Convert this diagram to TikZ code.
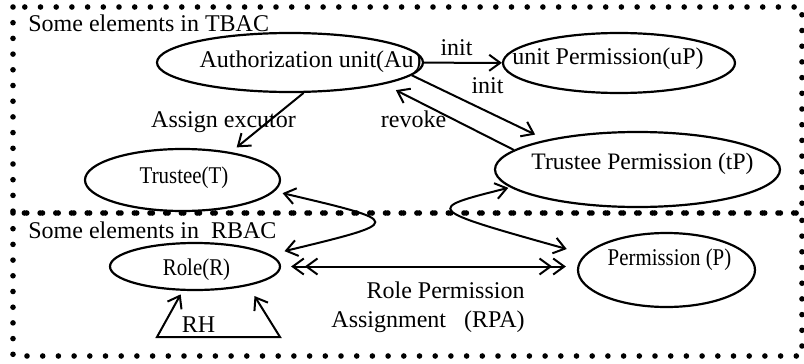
\documentclass[tikz,border=0pt]{standalone}
\usepackage{graphicx}
\usepackage{fontspec}
\setmainfont{Liberation Serif}
\usetikzlibrary{arrows.meta,shapes.geometric}
\newcommand{\narrowtext}[1]{\scalebox{0.87}[1]{#1}}
\tikzset{
	elem/.style={ellipse,draw,line width=1.1pt,inner sep=0pt},
	txt/.style={font=\fontsize{12}{14.5}\selectfont,inner sep=0pt,anchor=base},
	region/.style={line width=2.8pt,line cap=round,dash pattern=on 0pt off 7.85pt},
	link/.style={line width=1pt},
	>={Straight Barb[length=5.5pt,width=8pt]},
}

\begin{document}
\begin{tikzpicture}[x=0.5pt,y=-0.5pt]
\useasboundingbox (0,0) rectangle (804,364);
% RIQUADRI PUNTEGGIATI
\draw[region] (13,7) rectangle (802,213);
\draw[region] (13,213) rectangle (802,356);
\node[txt,anchor=base west] (tbac) at (28,32) {Some elements in TBAC};
\node[txt,anchor=base west] (rbac) at (28,238) {Some elements in\ \ RBAC};
% ELLISSI
\node[elem,minimum width=133pt,minimum height=29.5pt] (au) at (290,62.5) {};
\node[elem,minimum width=116pt,minimum height=30pt] (up) at (619,63) {};
\node[elem,minimum width=142.5pt,minimum height=37.5pt] (tp) at (637.5,169.5) {};
\node[elem,minimum width=97.5pt,minimum height=31pt] (tr) at (182.5,180) {};
\node[elem,minimum width=85pt,minimum height=23.5pt] (ro) at (195,266.5) {};
\node[elem,minimum width=88.5pt,minimum height=37pt] (pe) at (666.5,270) {};
% NOMI
\node[txt] (au-l) at (310.5,68) {Authorization unit(Au)};
\node[txt] (up-l) at (608,64) {unit Permission(uP)};
\node[txt,font=\fontsize{11.8}{14}\selectfont] (tp-l) at (642.5,169) {Trustee Permission (tP)};
\node[txt] (tr-l) at (184,183) {\narrowtext{Trustee(T)}};
\node[txt] (ro-l) at (196.5,275) {\narrowtext{Role(R)}};
\node[txt] (pe-l) at (669.5,265) {\narrowtext{Permission (P)}};
% FRECCE TBAC
\draw[link,->] (au) -- (up);
\node[txt] (init1) at (456.5,55) {init};
\draw[link,->,shorten >=6pt] (au.-6) -- (tp.162);
\node[txt] (init2) at (487.5,93) {init};
\draw[link,->,shorten >=6.5pt] (tp.171) -- (au.-13);
\node[txt] (revoke) at (413.5,127) {revoke};
\draw[link,->,shorten >=3.7pt] (au.-66) -- (tr.30);
\node[txt] (assign) at (223.5,127) {Assign excutor};
% FRECCE TRA I DUE MODELLI
\draw[link,<->,shorten <=4pt,shorten >=7.3pt] (tr.-7) .. controls (405,222) and (405,222) .. (ro.9);
\draw[link,<->,shorten <=1pt,shorten >=9.5pt] (tp.188) .. controls (424,209) and (424,209) .. (pe.169);
% FRECCE RBAC
\draw[link,<<->>,shorten <=5pt,shorten >=5.5pt] (ro.east) -- (ro.east -| pe.west);
\node[txt,anchor=base east,align=right] (rpa) at (525,327) {Role Permission\\Assignment\ \ \ (RPA)};
\coordinate (rh-l) at (157,337);
\coordinate (rh-r) at (280,337);
\draw[link,<->,shorten <=2pt,shorten >=6pt] (ro.-117) -- (rh-l) -- (rh-r) -- (ro.-20);
\node[txt] (rh) at (198.5,332) {RH};
\end{tikzpicture}
\end{document}
